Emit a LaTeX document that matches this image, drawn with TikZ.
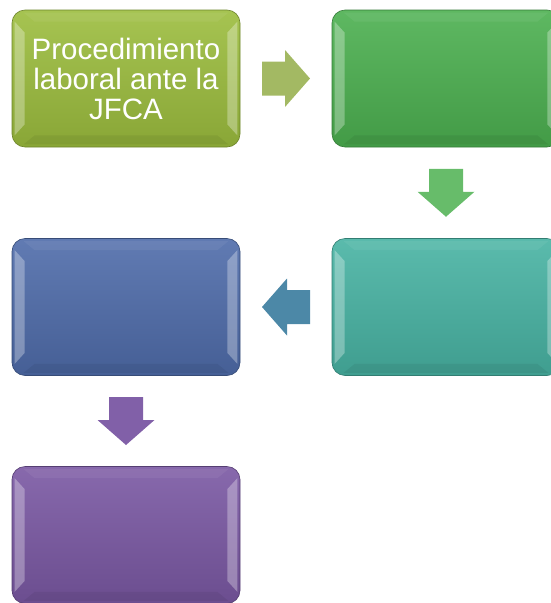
\documentclass[tikz,border=0pt]{standalone}
\usepackage{fontspec}
\setmainfont{Liberation Sans}
\usetikzlibrary{calc}
\definecolor{verdeA}{HTML}{9CBD3E}
\definecolor{verdeB}{HTML}{4CB050}
\definecolor{turquesa}{HTML}{48B3A3}
\definecolor{azul}{HTML}{4F6CAA}
\definecolor{morado}{HTML}{7A58A3}
\begin{document}
\begin{tikzpicture}[x=1pt,y=-1pt,
  caja/.style={rounded corners=13pt, minimum width=228pt, minimum height=137pt,
    inner sep=0pt, draw=#1!70!black, line width=0.6pt,
    top color=#1!90!white, bottom color=#1!88!black, text=white,
    align=center, font=\fontsize{29.5}{30}\selectfont},
  flecha/.pic={
    \path[fill=#1]
      (-24,-17) -- (-1,-17) -- (-1,-28.5) -- (24,0) -- (-1,28.5) -- (-1,17) -- (-24,17) -- cycle;
  }]
  \useasboundingbox (0,0) rectangle (550,603);
  \node[caja=verdeA](1) at (126,78.5) {Procedimiento\\laboral ante la\\JFCA};
  \node[caja=verdeB](2) at (446,78.5) {};
  \node[caja=turquesa](3) at (446,307) {};
  \node[caja=azul](4) at (126,307) {};
  \node[caja=morado](5) at (126,535) {};
  % bisel
  \foreach \b in {1,...,5}{
    \fill[white, opacity=0.3]
      ($(\b.north west)+(3,12)$) -- ($(\b.north west)+(13,23)$)
      -- ($(\b.south west)+(13,-23)$) -- ($(\b.south west)+(3,-12)$) -- cycle;
    \fill[white, opacity=0.3]
      ($(\b.north east)+(-3,12)$) -- ($(\b.north east)+(-13,23)$)
      -- ($(\b.south east)+(-13,-23)$) -- ($(\b.south east)+(-3,-12)$) -- cycle;
    \fill[white, opacity=0.06]
      ($(\b.north west)+(12,3)$) -- ($(\b.north east)+(-12,3)$)
      -- ($(\b.north east)+(-23,12)$) -- ($(\b.north west)+(23,12)$) -- cycle;
    \fill[black, opacity=0.06]
      ($(\b.south west)+(12,-3)$) -- ($(\b.south east)+(-12,-3)$)
      -- ($(\b.south east)+(-23,-12)$) -- ($(\b.south west)+(23,-12)$) -- cycle;
  }
  % flechas
  \pic at ($(1.east)!0.5!(2.west)$) {flecha=verdeA!75!white!90!black};
  \pic[rotate=-90] at ($(2.south)!0.5!(3.north)$) {flecha=verdeB!85!white};
  \pic[rotate=180] at ($(3.west)!0.5!(4.east)$) {flecha=azul!60!turquesa};
  \pic[rotate=-90] at ($(4.south)!0.5!(5.north)$) {flecha=morado!95!white};
\end{tikzpicture}
\end{document}
